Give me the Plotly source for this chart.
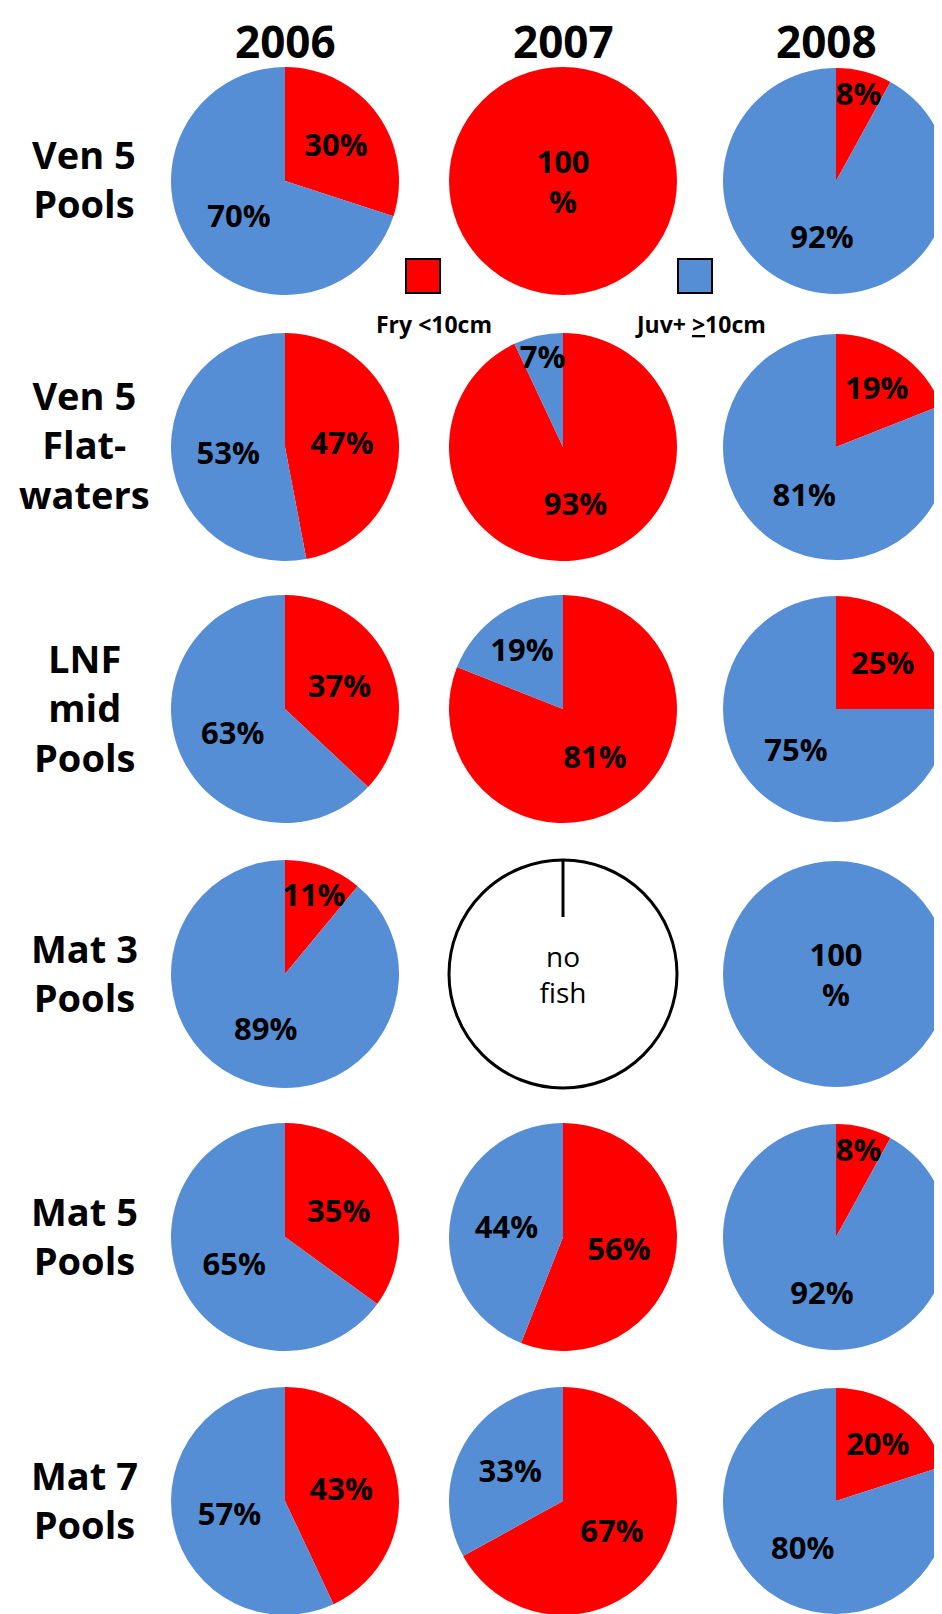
import plotly.graph_objects as go

years = ["2006", "2007", "2008"]
sites = ["Ven 5<br>Pools", "Ven 5<br>Flat-<br>waters", "LNF<br>mid<br>Pools", "Mat 3<br>Pools", "Mat 5<br>Pools", "Mat 7<br>Pools"]
# Fry <10cm percentages per site (rows) and year (cols); None = no fish
fry = [
    [30, 100, 8],
    [47, 93, 19],
    [37, 81, 25],
    [11, None, 0],
    [35, 56, 8],
    [43, 67, 20],
]
colors = ["#FF0000", "#558ED5"]

W, H = 942, 1614
col_x = [277, 555, 828]
row_y = [173, 439, 701, 966, 1229, 1493]
R = 114

def cl(v):
    return max(0.0, min(1.0, v))

fig = go.Figure()
font = dict(family="Open Sans", size=31, color="black")
for i, row in enumerate(fry):
    for j, f in enumerate(row):
        cx, cy = col_x[j], row_y[i]
        r = R if j < 2 else min(R, W - 1 - cx)
        dom = dict(x=[cl((cx - r) / W), cl((cx + r) / W)], y=[cl(1 - (cy + r) / H), cl(1 - (cy - r) / H)])
        if f is None:
            fig.add_trace(go.Pie(values=[1], domain=dom, marker=dict(colors=["white"], line=dict(color="black", width=3)),
                                 text=["no<br>fish"], texttemplate="%{text}", textposition="inside",
                                 textfont=dict(family="Open Sans", size=28, color="black"), hoverinfo="skip",
                                 showlegend=False, sort=False))
            fig.add_shape(type="line", xref="paper", yref="paper", x0=cx / W, x1=cx / W,
                          y0=1 - cy / H + 0.5 * r / H, y1=1 - (cy - r) / H, line=dict(color="black", width=3))
            continue
        vals = [f, 100 - f]
        txt = [("<b>100<br>%</b>" if v == 100 else f"<b>{v}%</b>") if v > 0 else "" for v in vals]
        fig.add_trace(go.Pie(values=vals, domain=dom, sort=False, direction="clockwise", rotation=0,
                             marker=dict(colors=colors, line=dict(width=0)), text=txt, texttemplate="%{text}",
                             textposition="inside", insidetextorientation="horizontal",
                             textfont=font, showlegend=False, hoverinfo="skip"))

def ann(x, y, text, size):
    fig.add_annotation(x=x / W, y=1 - y / H, xref="paper", yref="paper", text=text, xanchor="center",
                       yanchor="middle", showarrow=False, align="center",
                       font=dict(family="Open Sans", size=size, color="black"))

for j, y in enumerate(years):
    ann(col_x[j] if j < 2 else 818, 33, f"<b>{y}</b>", 44)
for i, s in enumerate(sites):
    ann(76, row_y[i] - 2, f"<b>{s}</b>", 38)

# legend
leg = [("Fry <10cm", colors[0], 415, 426), ("Juv+ <u>></u>10cm", colors[1], 687, 692)]
for label, c, sx, tx in leg:
    fig.add_shape(type="rect", xref="paper", yref="paper", x0=(sx - 17) / W, x1=(sx + 17) / W,
                  y0=1 - (268 + 17) / H, y1=1 - (268 - 17) / H, fillcolor=c, line=dict(color="black", width=2))
    ann(tx, 316, f"<b>{label}</b>", 23)

fig.update_layout(width=W, height=H, margin=dict(l=0, r=0, t=0, b=0), paper_bgcolor="white",
                  plot_bgcolor="white", uniformtext=dict(minsize=24, mode="show"))
fig.write_html("out.html")
